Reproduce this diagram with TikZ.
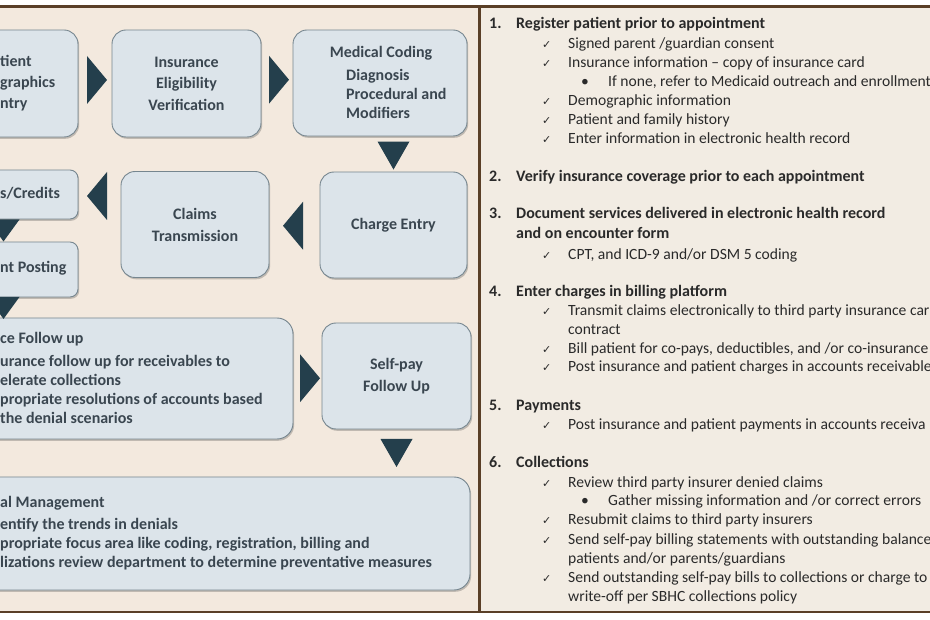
\documentclass[tikz,border=0pt]{standalone}
\usepackage{fontspec}
\setmainfont{Carlito}
\newfontfamily\dejavu{DejaVu Sans}
\usetikzlibrary{shadows,calc}
\definecolor{leftbg}{HTML}{F3E9DE}
\definecolor{rightbg}{HTML}{F2ECE3}
\definecolor{framec}{HTML}{5A3F27}
\definecolor{boxfill}{HTML}{DCE4EA}
\definecolor{boxline}{HTML}{76868F}
\definecolor{tric}{HTML}{243F4C}
\definecolor{boxtext}{HTML}{3A4650}
\definecolor{bodytext}{HTML}{2A2A2A}
\newcommand{\chk}{{\dejavu\fontsize{11}{11}\selectfont ✓}}
\begin{document}
\begin{tikzpicture}[x=1pt,y=-1pt,
  box/.style={draw=boxline, line width=0.9pt, fill=boxfill, rounded corners=14pt,
    inner sep=0pt, text=boxtext, font=\fontsize{16}{21.5}\selectfont\bfseries, align=center,
    drop shadow={shadow xshift=1.2pt, shadow yshift=-1.8pt, opacity=0.3, fill=black!70}},
  smallbox/.style={box, rounded corners=8pt},
  frag/.style={inner sep=0pt, text=boxtext, font=\fontsize{16}{19}\selectfont\bfseries, align=left, anchor=west},
  rt/.style={inner sep=0pt, text=bodytext, font=\fontsize{15.6}{19}\selectfont, anchor=base west},
  rh/.style={rt, font=\fontsize{16}{19}\selectfont\bfseries},
  rtri/.pic={\fill[tric] (-10,-24) -- (10,0) -- (-10,24) -- cycle;},
  ltri/.pic={\fill[tric] (10,-24) -- (-10,0) -- (10,24) -- cycle;},
  dtri/.pic={\fill[tric] (-16,-14) -- (16,-14) -- (0,14) -- cycle;},
  dtris/.pic={\fill[tric] (-16,-11) -- (16,-11) -- (0,11) -- cycle;}
]
\useasboundingbox (0,0) rectangle (930,620);
\clip (0,0) rectangle (930,620);
% background and frame
\fill[white] (0,0) rectangle (930,620);
\fill[leftbg] (0,6.5) rectangle (479.5,612);
\fill[rightbg] (479.5,6.5) rectangle (930,612);
\draw[framec, line width=2.4pt] (0,6.5) -- (930,6.5);
\draw[framec, line width=2.4pt] (0,612) -- (930,612);
\draw[framec, line width=2.4pt] (479.5,6.5) -- (479.5,612);

% ---------- left: process boxes ----------
\node[box, minimum width=149pt, minimum height=107pt] (b1) at (3.5,83.5) {};
\node[frag, font=\fontsize{16}{21}\selectfont\bfseries] (b1t) at (0,83) {tient\\graphics\\ntry};
\node[box, minimum width=149pt, minimum height=107pt] (b2) at (186.5,83.5) {Insurance\\Eligibility\\Verification};
\node[box, minimum width=174pt, minimum height=106pt] (b3) at (380,83) {};
\node[frag, anchor=center] (b3h) at (381,53) {Medical Coding};
\node[frag] (b3l) at (346,94) {Diagnosis\\Procedural and\\Modifiers};
\node[box, minimum width=147pt, minimum height=106pt] (b4) at (393.5,225) {Charge Entry};
\node[box, minimum width=148pt, minimum height=106pt, font=\fontsize{16}{22}\selectfont\bfseries] (b5) at (195,224.5) {Claims\\Transmission};
\node[smallbox, minimum width=149pt, minimum height=49pt] (b6) at (3.5,194.5) {};
\node[frag] (b6t) at (0,193) {s/Credits};
\node[smallbox, minimum width=149pt, minimum height=55pt] (b7) at (3.5,269.5) {};
\node[frag] (b7t) at (0,268) {nt Posting};
\node[box, rounded corners=16pt, minimum width=443pt, minimum height=121pt] (b8) at (71.5,378.5) {};
\node[frag] (b8h) at (0,339) {ce Follow up};
\node[frag] (b8l) at (0,389.5) {urance follow up for receivables to\\elerate collections\\propriate resolutions of accounts based\\the denial scenarios};
\node[box, minimum width=149pt, minimum height=106pt] (b9) at (396.5,376) {Self-pay\\Follow Up};
\node[box, rounded corners=16pt, minimum width=620pt, minimum height=113pt] (b10) at (160,533.5) {};
\node[frag] (b10h) at (0,503) {al Management};
\node[frag] (b10l) at (0,544) {entify the trends in denials\\propriate focus area like coding, registration, billing and\\lizations review department to determine preventative measures};

% connectors (triangles)
\pic at ($($(b1.east)!0.5!(b2.west)$)+(2,-3.5)$) {rtri};
\pic at ($($(b2.east)!0.5!(b3.west)$)+(2,-3.5)$) {rtri};
\pic at ($(b4.north)+(0,-16)$) {dtri};
\pic at ($(b5.east)!0.5!(b4.west)+(-1.5,1)$) {ltri};
\pic at ($(b6.east)!0.5!(b5.west |- b6.east)+(-2.5,1.5)$) {ltri};
\pic at ($(b6.south)!0.5!(b7.north)$) {dtris};
\pic at ($(b7.south)+(0,10.5)$) {dtris};
\pic at ($(b8.east)!0.5!(b9.west)+(2.5,1)$) {rtri};
\pic at ($(b9.south)!0.5!(b9.south |- b10.north)$) {dtri};

% ---------- right: text ----------
\node[rh] (n1) at (489,29) {1.};
\node[rh] (h1) at (516,29) {Register patient prior to appointment};
\node[rt] (c1a) at (542,48.5) {\chk};
\node[rt] (t1a) at (568,48.5) {Signed parent /guardian consent};
\node[rt] (c1b) at (542,67.5) {\chk};
\node[rt] (t1b) at (568,67.5) {Insurance information – copy of insurance card};
\node[rt] (d1b) at (581,86.5) {•};
\node[rt] (t1c) at (608,86.5) {If none, refer to Medicaid outreach and enrollment};
\node[rt] (c1d) at (542,105.5) {\chk};
\node[rt] (t1d) at (568,105.5) {Demographic information};
\node[rt] (c1e) at (542,124.5) {\chk};
\node[rt] (t1e) at (568,124.5) {Patient and family history};
\node[rt] (c1f) at (542,143.5) {\chk};
\node[rt] (t1f) at (568,143.5) {Enter information in electronic health record};

\node[rh] (n2) at (489,182) {2.};
\node[rh] (h2) at (516,182) {Verify insurance coverage prior to each appointment};

\node[rh] (n3) at (489,219) {3.};
\node[rh] (h3) at (516,219) {Document services delivered in electronic health record};
\node[rh] (h3b) at (516,238.5) {and on encounter form};
\node[rt] (c3a) at (542,259.5) {\chk};
\node[rt] (t3a) at (568,259.5) {CPT, and ICD-9 and/or DSM 5 coding};

\node[rh] (n4) at (489,296.5) {4.};
\node[rh] (h4) at (516,296.5) {Enter charges in billing platform};
\node[rt] (c4a) at (542,315.5) {\chk};
\node[rt] (t4a) at (568,315.5) {Transmit claims electronically to third party insurance car};
\node[rt] (t4b) at (568,334.5) {contract};
\node[rt] (c4c) at (542,353.5) {\chk};
\node[rt] (t4c) at (568,353.5) {Bill patient for co-pays, deductibles, and /or co-insurance};
\node[rt] (c4d) at (542,372) {\chk};
\node[rt] (t4d) at (568,372) {Post insurance and patient charges in accounts receivable};

\node[rh] (n5) at (489,410.5) {5.};
\node[rh] (h5) at (516,410.5) {Payments};
\node[rt] (c5a) at (542,429.5) {\chk};
\node[rt] (t5a) at (568,429.5) {Post insurance and patient payments in accounts receiva};

\node[rh] (n6) at (489,467.5) {6.};
\node[rh] (h6) at (516,467.5) {Collections};
\node[rt] (c6a) at (542,487) {\chk};
\node[rt] (t6a) at (568,487) {Review third party insurer denied claims};
\node[rt] (d6b) at (581,506) {•};
\node[rt] (t6b) at (608,506) {Gather missing information and /or correct errors};
\node[rt] (c6c) at (542,525) {\chk};
\node[rt] (t6c) at (568,525) {Resubmit claims to third party insurers};
\node[rt] (c6d) at (542,544) {\chk};
\node[rt] (t6d) at (568,544) {Send self-pay billing statements with outstanding balance};
\node[rt] (t6e) at (568,563) {patients and/or parents/guardians};
\node[rt] (c6f) at (542,582) {\chk};
\node[rt] (t6f) at (568,582) {Send outstanding self-pay bills to collections or charge to};
\node[rt] (t6g) at (568,601) {write-off per SBHC collections policy};
\end{tikzpicture}
\end{document}
